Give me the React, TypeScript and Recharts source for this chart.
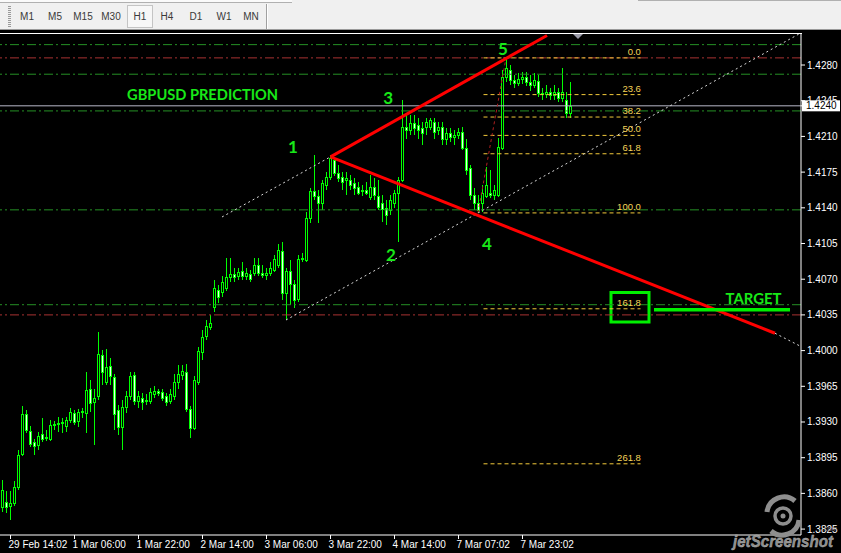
import React from "react";
import { Bar, ComposedChart, ReferenceArea, ReferenceDot, ReferenceLine, XAxis, YAxis } from "recharts";

// GBPUSD H1 candles (oldest first)
const open = [
  1.3847, 1.3852, 1.3848, 1.3851, 1.3866, 1.3899, 1.3938, 1.3921, 1.391, 1.3907, 1.3918, 1.3915, 1.3913, 1.3927, 1.3928, 1.3929,
  1.3926, 1.3932, 1.3939, 1.3931, 1.394, 1.3939, 1.3962, 1.395, 1.3955, 1.3996, 1.3969, 1.3985, 1.3974, 1.3942, 1.3925, 1.3945,
  1.3955, 1.3976, 1.3951, 1.3954, 1.3952, 1.3951, 1.3957, 1.396, 1.3959, 1.3955, 1.3951, 1.3955, 1.3969, 1.3976, 1.3979, 1.3943,
  1.3924, 1.3969, 1.3999, 1.4014, 1.4023, 1.4043, 1.4059, 1.4057, 1.4061, 1.4072, 1.4075, 1.4073, 1.4078, 1.4073, 1.4075, 1.4076,
  1.4084, 1.4076, 1.4074, 1.4076, 1.4079, 1.4084, 1.4098, 1.4056, 1.4078, 1.4065, 1.4051, 1.409, 1.4089, 1.413, 1.4156, 1.4152,
  1.4145, 1.4162, 1.417, 1.4187, 1.4174, 1.417, 1.4167, 1.4167, 1.4164, 1.416, 1.4156, 1.4157, 1.4151, 1.416, 1.4152, 1.4145,
  1.414, 1.4138, 1.4145, 1.4155, 1.4167, 1.4219, 1.4216, 1.4223, 1.4221, 1.4218, 1.4219, 1.4219, 1.4224, 1.4216, 1.4219, 1.4207,
  1.4213, 1.4209, 1.4211, 1.4214, 1.4199, 1.4179, 1.4153, 1.4145, 1.4145, 1.4152, 1.4155, 1.4153, 1.4153, 1.4199, 1.4268, 1.4275,
  1.4265, 1.4262, 1.4266, 1.4268, 1.4263, 1.426, 1.4264, 1.4253, 1.4252, 1.4254, 1.4251, 1.4254, 1.4248, 1.4246, 1.4233,
];
const high = [
  1.3873, 1.3862, 1.3862, 1.3872, 1.3903, 1.3946, 1.3942, 1.3926, 1.3913, 1.392, 1.3934, 1.3922, 1.3932, 1.3931, 1.3935, 1.3934,
  1.3935, 1.3944, 1.3942, 1.3943, 1.3944, 1.3979, 1.3971, 1.3962, 1.4018, 1.4001, 1.4002, 1.3993, 1.3977, 1.3947, 1.3952, 1.396,
  1.3979, 1.3979, 1.396, 1.3958, 1.3957, 1.3963, 1.3965, 1.3962, 1.3962, 1.3958, 1.3962, 1.3977, 1.3986, 1.3986, 1.3987, 1.3946,
  1.3975, 1.4004, 1.402, 1.403, 1.4035, 1.4069, 1.4064, 1.4073, 1.4091, 1.4091, 1.4081, 1.4081, 1.4087, 1.4081, 1.4079, 1.4091,
  1.4091, 1.4084, 1.4081, 1.4087, 1.4094, 1.4105, 1.4106, 1.4081, 1.4089, 1.4069, 1.4094, 1.4096, 1.4136, 1.4159, 1.4192, 1.4157,
  1.4167, 1.4175, 1.4192, 1.419, 1.4182, 1.4175, 1.4175, 1.4172, 1.4169, 1.4165, 1.4162, 1.4165, 1.4172, 1.4169, 1.4167, 1.4153,
  1.4148, 1.4153, 1.4157, 1.417, 1.4246, 1.4231, 1.4231, 1.4231, 1.4228, 1.4224, 1.4228, 1.4228, 1.4228, 1.4224, 1.4224, 1.4218,
  1.4218, 1.4216, 1.4218, 1.4219, 1.4207, 1.4182, 1.4159, 1.4153, 1.4162, 1.418, 1.4177, 1.4162, 1.4208, 1.4275, 1.4287, 1.428,
  1.427, 1.4272, 1.4273, 1.4273, 1.427, 1.4272, 1.427, 1.4257, 1.426, 1.4257, 1.426, 1.4257, 1.4277, 1.4254, 1.4263,
];
const low = [
  1.3842, 1.3841, 1.3834, 1.3848, 1.3863, 1.3897, 1.3919, 1.3905, 1.3898, 1.3903, 1.391, 1.3911, 1.3911, 1.3922, 1.392, 1.3919,
  1.392, 1.3929, 1.3927, 1.3925, 1.3934, 1.3919, 1.394, 1.3907, 1.3952, 1.3966, 1.3966, 1.3966, 1.3922, 1.3917, 1.3903, 1.3939,
  1.3952, 1.3947, 1.3944, 1.3942, 1.3947, 1.3948, 1.3954, 1.3955, 1.3951, 1.3946, 1.3948, 1.3952, 1.3962, 1.3971, 1.394, 1.3914,
  1.3922, 1.3966, 1.3991, 1.401, 1.402, 1.4038, 1.4047, 1.4053, 1.4058, 1.4067, 1.4067, 1.4069, 1.4069, 1.4069, 1.4067, 1.4073,
  1.4073, 1.4071, 1.4069, 1.4073, 1.4077, 1.4081, 1.405, 1.403, 1.4045, 1.4042, 1.4048, 1.4087, 1.4087, 1.4125, 1.4148, 1.4125,
  1.4138, 1.4157, 1.4167, 1.4171, 1.4165, 1.4157, 1.4153, 1.4157, 1.4153, 1.4153, 1.4152, 1.4153, 1.4148, 1.4148, 1.4138, 1.4126,
  1.4123, 1.4133, 1.414, 1.4106, 1.4165, 1.4207, 1.4211, 1.4211, 1.4207, 1.4202, 1.4211, 1.4216, 1.4207, 1.4211, 1.4202, 1.4202,
  1.4205, 1.4202, 1.4207, 1.4197, 1.4172, 1.4148, 1.4138, 1.4135, 1.4136, 1.415, 1.415, 1.4148, 1.4151, 1.4197, 1.4263, 1.426,
  1.4257, 1.4259, 1.4261, 1.4259, 1.4255, 1.4257, 1.4249, 1.4246, 1.4248, 1.4246, 1.4246, 1.4244, 1.4244, 1.4228, 1.4228,
];
const close = [
  1.3863, 1.3847, 1.3851, 1.3866, 1.3898, 1.3938, 1.3922, 1.3908, 1.3906, 1.3916, 1.3913, 1.3914, 1.3927, 1.3928, 1.3929, 1.393,
  1.3932, 1.394, 1.393, 1.394, 1.3941, 1.3961, 1.3949, 1.3954, 1.3997, 1.3979, 1.3984, 1.3975, 1.3938, 1.3925, 1.3945, 1.3955,
  1.3975, 1.3951, 1.3955, 1.395, 1.3951, 1.3959, 1.396, 1.3958, 1.3954, 1.395, 1.3957, 1.3969, 1.3977, 1.398, 1.3943, 1.3924,
  1.3971, 1.4, 1.4013, 1.4024, 1.4027, 1.4061, 1.4053, 1.4067, 1.4072, 1.4075, 1.4072, 1.4077, 1.4073, 1.4076, 1.407, 1.4084,
  1.4076, 1.4074, 1.4076, 1.4081, 1.409, 1.4099, 1.4056, 1.4078, 1.4065, 1.405, 1.409, 1.4091, 1.413, 1.4156, 1.4152, 1.4145,
  1.4164, 1.417, 1.4189, 1.4174, 1.4169, 1.4165, 1.4169, 1.4162, 1.4159, 1.4155, 1.4157, 1.4155, 1.416, 1.4153, 1.4141, 1.4139,
  1.4133, 1.4148, 1.4155, 1.4167, 1.4219, 1.4216, 1.4223, 1.4218, 1.4216, 1.4213, 1.4224, 1.4226, 1.4214, 1.4219, 1.4207, 1.4213,
  1.4209, 1.4211, 1.4214, 1.4199, 1.4177, 1.4153, 1.4145, 1.4138, 1.4155, 1.4162, 1.4153, 1.4157, 1.42, 1.4268, 1.4277, 1.4265,
  1.4262, 1.4266, 1.4268, 1.4263, 1.426, 1.4265, 1.4253, 1.4252, 1.4254, 1.4251, 1.4254, 1.4248, 1.4254, 1.4233, 1.424,
];

const timeTickBars = [2, 18, 34, 50, 66, 82, 98, 114, 130];
const timeTickLabels = [
  "29 Feb 14:02", "1 Mar 06:00", "1 Mar 22:00", "2 Mar 14:00", "3 Mar 06:00",
  "3 Mar 22:00", "4 Mar 14:00", "7 Mar 07:02", "7 Mar 23:02",
];
const priceTicks = [
  1.3825, 1.386, 1.3895, 1.393, 1.3965, 1.4, 1.4035, 1.407, 1.4105, 1.414, 1.4175, 1.421, 1.4245, 1.428,
];
const currentPrice = 1.424;

// horizontal dash-dot levels across the chart
const greenLevels = [1.43, 1.4271, 1.4235, 1.4138, 1.4045];
const redLevels = [1.4287, 1.4035];

// fibonacci retracement drawn between bar 119 low and bar 126 high
const fibLabels = ["0.0", "23.6", "38.2", "50.0", "61.8", "100.0", "161.8", "261.8"];
const fibPrices = [1.4287, 1.4251, 1.4229, 1.4211, 1.4193, 1.4135, 1.4041, 1.3889];

const waveNames = ["1", "2", "3", "4", "5"];
const waveBars = [72.6, 97.1, 96.4, 121.1, 125.1];
const wavePrices = [1.4194, 1.4088, 1.4242, 1.4099, 1.429];

const X_DOMAIN: [number, number] = [-0.625, 199.625];
const Y_DOMAIN: [number, number] = [1.38192, 1.43114];

const CANDLE = "#00ff00";
const LABEL = "#18e818";
const FIB = "#f2c93a";
const FONT = "'Liberation Sans', Arial, sans-serif";

const data = open.map((o, i) => ({
  i,
  open: o,
  high: high[i],
  low: low[i],
  close: close[i],
  range: [low[i], high[i]],
}));

const Candle = (props: any) => {
  const { x, y, width, height, payload } = props;
  if (!payload) return null;
  const top = Math.min(y, y + height);
  const span = Math.abs(height);
  const per = span / (payload.high - payload.low || 1);
  const cx = Math.round(x + width / 2 - 0.5) + 0.5;
  const yOpen = top + (payload.high - payload.open) * per;
  const yClose = top + (payload.high - payload.close) * per;
  const bTop = Math.round(Math.min(yOpen, yClose)) + 0.5;
  const bBot = Math.max(Math.round(Math.max(yOpen, yClose)) + 0.5, bTop + 1);
  const up = payload.close >= payload.open;
  return (
    <g>
      <line x1={cx} x2={cx} y1={Math.round(top)} y2={Math.round(top + span)} stroke={CANDLE} strokeWidth={1} />
      <rect x={cx - 1} y={bTop} width={2} height={bBot - bTop} fill={up ? "#000" : "#e8ffe8"} stroke={CANDLE} strokeWidth={1} />
    </g>
  );
};

const TimeTick = (props: any) => {
  const { x, y, payload } = props;
  const idx = timeTickBars.indexOf(payload.value);
  return (
    <text x={x - 2} y={y + 7} textAnchor="start" fill="#fff" fontSize={10} fontFamily={FONT}>
      {timeTickLabels[idx]}
    </text>
  );
};

const PriceTick = (props: any) => {
  const { x, y, payload } = props;
  const v = payload.value;
  if (Math.abs(v - currentPrice) < 1e-7) {
    return (
      <g>
        <rect x={x - 5} y={y - 5.5} width={38} height={11} fill="#fff" />
        <text x={x - 1} y={y} dy={3.5} textAnchor="start" fill="#000" fontSize={10} fontFamily={FONT}>
          {v.toFixed(4)}
        </text>
      </g>
    );
  }
  return (
    <text x={x} y={y} dy={3.5} textAnchor="start" fill="#fff" fontSize={10} fontFamily={FONT}>
      {v.toFixed(4)}
    </text>
  );
};

const textShape = (text: string, opts: any) => (p: any) => (
  <text
    x={p.cx}
    y={p.cy}
    fill={opts.fill || LABEL}
    fontSize={opts.size}
    fontWeight={opts.weight || "bold"}
    fontFamily={opts.family || "Lato, 'DejaVu Sans', sans-serif"}
    textAnchor={opts.anchor || "middle"}
    textLength={opts.length}
    lengthAdjust={opts.length ? "spacingAndGlyphs" : undefined}
    dy={opts.dy || 0}
  >
    {text}
  </text>
);

function Toolbar() {
  const buttons = ["M1", "M5", "M15", "M30", "H1", "H4", "D1", "W1", "MN"];
  const centers = [27, 55, 83, 111, 140, 167, 196, 224, 251];
  return (
    <div style={{ position: "absolute", left: 0, top: 0, width: 841, height: 30, background: "#f0f0f0", borderBottom: "1px solid #9a9a9a", boxSizing: "border-box" }}>
      <div style={{ position: "absolute", left: 0, top: 0, width: 292, height: 2, borderBottom: "1px solid #b0b0b0", background: "#fafafa" }} />
      <div style={{ position: "absolute", left: 638, top: 0, width: 203, height: 1, background: "#b0b0b0" }} />
      <div style={{ position: "absolute", left: 8, top: 6, width: 3, height: 21, backgroundImage: "repeating-linear-gradient(#9a9a9a 0 1px, transparent 1px 2px)" }} />
      <div style={{ position: "absolute", left: 266, top: 4, width: 1, height: 25, background: "#a0a0a0" }} />
      <div style={{ position: "absolute", left: 267, top: 4, width: 1, height: 25, background: "#fff" }} />
      <div style={{ position: "absolute", left: 127, top: 5, width: 26, height: 23, border: "1px solid #c4c4c4", background: "#f7f7f7", boxSizing: "border-box" }} />
      {buttons.map((b, k) => (
        <div key={b} style={{ position: "absolute", left: centers[k] - 15, width: 30, top: 11, textAlign: "center", fontSize: 10, fontFamily: FONT, color: "#3a3a3a" }}>
          {b}
        </div>
      ))}
    </div>
  );
}

export default function App() {
  return (
    <div style={{ position: "fixed", left: 0, top: 0, width: 841, height: 553, background: "#000", overflow: "hidden" }}>
      <Toolbar />
      <div style={{ position: "absolute", left: 0, top: 30 }}>
        <ComposedChart width={841} height={523} data={data} margin={{ top: 3, right: 0, bottom: 0, left: 0 }}>
          <XAxis
            type="number"
            dataKey="i"
            domain={X_DOMAIN}
            allowDataOverflow
            ticks={timeTickBars}
            interval={0}
            tick={<TimeTick />}
            height={18}
            tickSize={4}
            axisLine={{ stroke: "#fff" }}
            tickLine={{ stroke: "#fff" }}
          />
          <YAxis
            orientation="right"
            type="number"
            domain={Y_DOMAIN}
            allowDataOverflow
            ticks={[...priceTicks, currentPrice]}
            interval={0}
            tick={<PriceTick />}
            width={40}
            tickSize={4}
            axisLine={{ stroke: "#fff" }}
            tickLine={{ stroke: "#fff" }}
          />

          {greenLevels.map((p) => (
            <ReferenceLine key={"g" + p} y={p} stroke="#259025" strokeDasharray="9 3 2 3" />
          ))}
          {redLevels.map((p) => (
            <ReferenceLine key={"r" + p} y={p} stroke="#a83232" strokeDasharray="9 3 2 3" />
          ))}
          <ReferenceLine y={currentPrice} stroke="#b8b8c8" />

          {fibPrices.map((p) => (
            <ReferenceLine
              key={"f" + p}
              segment={[{ x: 120.25, y: p }, { x: 159.5, y: p }]}
              stroke={FIB}
              strokeDasharray="4 3"
            />
          ))}
          <ReferenceLine segment={[{ x: 118.875, y: 1.4135 }, { x: 125.875, y: 1.4287 }]} stroke="#b02020" strokeDasharray="3 3" />

          <ReferenceLine segment={[{ x: 54.875, y: 1.4131 }, { x: 82, y: 1.419 }]} stroke="#d8d8d8" strokeDasharray="2 3" />
          <ReferenceLine segment={[{ x: 70.875, y: 1.403 }, { x: 199.375, y: 1.4311 }]} stroke="#d8d8d8" strokeDasharray="2 3" />
          <ReferenceLine segment={[{ x: 193.125, y: 1.4017 }, { x: 199.625, y: 1.4004 }]} stroke="#d8d8d8" strokeDasharray="2 3" />

          <Bar dataKey="range" barSize={3} shape={<Candle />} isAnimationActive={false} />

          <ReferenceLine segment={[{ x: 82, y: 1.419 }, { x: 136.125, y: 1.4309 }]} stroke="#ff0000" strokeWidth={3} />
          <ReferenceLine segment={[{ x: 82, y: 1.419 }, { x: 193.125, y: 1.4017 }]} stroke="#ff0000" strokeWidth={3} />

          <ReferenceLine segment={[{ x: 162.875, y: 1.404 }, { x: 196.875, y: 1.404 }]} stroke="#00f000" strokeWidth={3.5} />
          <ReferenceArea x1={152.125} x2={161.625} y1={1.4028} y2={1.4057} fill="none" stroke="#00f000" strokeWidth={3} />

          {fibPrices.map((p, k) => (
            <ReferenceDot
              key={"fl" + k}
              x={159.6}
              y={p}
              r={1}
              shape={textShape(fibLabels[k], { fill: "#f5d45a", size: 9.5, weight: "normal", family: FONT, anchor: "end", dy: -3 })}
            />
          ))}
          {waveNames.map((n, k) => (
            <ReferenceDot key={"w" + n} x={waveBars[k]} y={wavePrices[k]} r={1} shape={textShape(n, { size: 17 })} />
          ))}
          <ReferenceDot x={31.15} y={1.4246} r={1} shape={textShape("GBPUSD PREDICTION", { size: 16, anchor: "start", length: 151 })} />
          <ReferenceDot x={187.75} y={1.4046} r={1} shape={textShape("TARGET", { size: 16, length: 56 })} />
        </ComposedChart>
      </div>
      <div style={{ position: "absolute", left: 0, top: 33, width: 802, height: 1, background: "#fff" }} />
      <svg width={841} height={553} style={{ position: "absolute", left: 0, top: 0, pointerEvents: "none" }}>
        <polygon points="573,34 583,34 578,39" fill="#9a9aa8" />
        <g fill="none" stroke="#8e8e8e">
          <circle cx={783} cy={516} r={8} strokeWidth={3.5} />
          <path d="M767 512 A17 17 0 0 1 795 501" strokeWidth={5} />
          <path d="M799 520 A17 17 0 0 1 771 531" strokeWidth={5} />
        </g>
        <circle cx={783} cy={516} r={2.5} fill="#8e8e8e" />
        <text x={733} y={547} fill="#8c8c8c" stroke="#b8b8b8" strokeWidth={0.4} fontSize={17} fontStyle="italic" fontWeight="bold" fontFamily={FONT} textLength={100} lengthAdjust="spacingAndGlyphs">
          jetScreenshot
        </text>
        <text x={822} y={531} fill="#8c8c8c" fontSize={7} fontFamily={FONT}>.com</text>
      </svg>
    </div>
  );
}
